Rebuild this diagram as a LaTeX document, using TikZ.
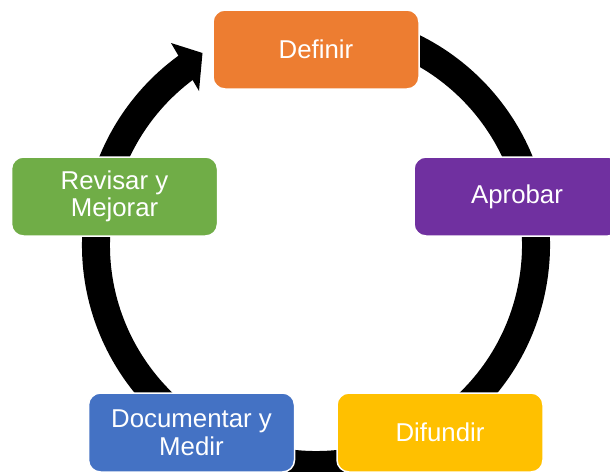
\documentclass[tikz,border=0pt]{standalone}
\usepackage{fontspec}
\setmainfont{Liberation Sans}
\definecolor{cOrange}{HTML}{ED7D31}
\definecolor{cPurple}{HTML}{7030A0}
\definecolor{cYellow}{HTML}{FFC000}
\definecolor{cBlue}{HTML}{4472C4}
\definecolor{cGreen}{HTML}{70AD47}
\begin{document}
\begin{tikzpicture}[x=1pt,y=1pt,
  stepbox/.style={draw=white, line width=1.5pt, rounded corners=12pt,
    minimum width=206pt, minimum height=79pt, inner sep=0pt,
    text=white, align=center,
    font=\fontsize{25.8}{27.5}\selectfont},
  ring/.style={line width=28pt, black}]
\clip (0,0) rectangle (610,-471);
\coordinate (C) at (316,-245);
% ring arrow
\draw[ring] ([shift={(80:220)}]C) arc[start angle=80, end angle=-235, radius=220];
\coordinate (h1) at (171,-43);
\coordinate (h2) at (202.5,-53);
\coordinate (h3) at (199,-91);
\fill[black] (h1) -- (h2) -- (h3) -- cycle;
% boxes
\node[stepbox, fill=cOrange] (def) at (316,-49.5) {Definir};
\node[stepbox, fill=cPurple] (apr) at (517,-196.5) {Aprobar};
\node[stepbox, fill=cYellow] (dif) at (440,-432.5) {Difundir};
\node[stepbox, fill=cBlue] (doc) at (191.5,-432.5) {Documentar y\\Medir};
\node[stepbox, fill=cGreen] (rev) at (114.5,-196.5) {Revisar y\\Mejorar};
\end{tikzpicture}
\end{document}
